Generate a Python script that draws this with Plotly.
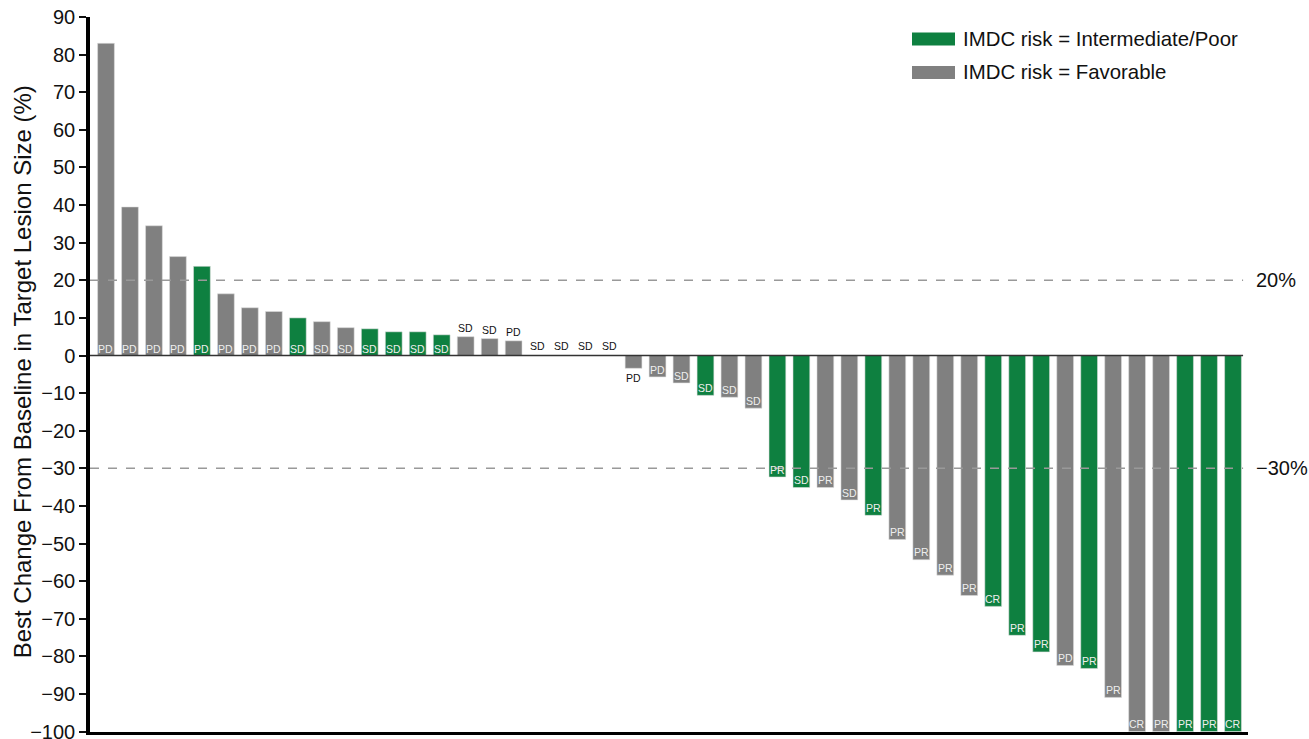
import plotly.graph_objects as go

# ---- data ----
values = [83, 39.5, 34.5, 26.3, 23.7, 16.4, 12.7, 11.7, 10.0, 9.0, 7.4, 7.1, 6.3, 6.3, 5.5,
          5.0, 4.5, 3.9, 0, 0, 0, 0, -3.4, -5.7, -7.3, -10.6, -11.1, -14.0, -32.3, -35.1,
          -35.1, -38.4, -42.5, -48.9, -54.3, -58.4, -63.8, -66.7, -74.4, -78.8, -82.4, -83.2,
          -90.9, -100, -100, -100, -100, -100]
responses = ["PD", "PD", "PD", "PD", "PD", "PD", "PD", "PD", "SD", "SD", "SD", "SD", "SD", "SD", "SD",
             "SD", "SD", "PD", "SD", "SD", "SD", "SD", "PD", "PD", "SD", "SD", "SD", "SD", "PR", "SD",
             "PR", "SD", "PR", "PR", "PR", "PR", "PR", "CR", "PR", "PR", "PD", "PR",
             "PR", "CR", "PR", "PR", "PR", "CR"]
risk = ["F", "F", "F", "F", "I", "F", "F", "F", "I", "F", "F", "I", "I", "I", "I",
        "F", "F", "F", "F", "F", "F", "F", "F", "F", "F", "I", "F", "F", "I", "I",
        "F", "F", "I", "F", "F", "F", "F", "I", "I", "I", "F", "I",
        "F", "F", "F", "I", "I", "I"]
risk_names = {"I": "IMDC risk = Intermediate/Poor", "F": "IMDC risk = Favorable"}
thresholds = [20, -30]
yticks = list(range(-100, 91, 10))
y_title = "Best Change From Baseline in Target Lesion Size (%)"

GREEN = "#0E8040"
GRAY = "#808080"
colors = {"I": GREEN, "F": GRAY}
FONT = "Arial, Liberation Sans, Helvetica, sans-serif"

x = list(range(len(values)))
fig = go.Figure()
fig.add_trace(go.Bar(
    x=x, y=values, width=0.7,
    marker=dict(color=[colors[r] for r in risk],
                line=dict(color="rgba(220,220,220,0.7)", width=0.8)),
    showlegend=False, hoverinfo="y",
))

# response labels
annotations = []
for i, (v, lab) in enumerate(zip(values, responses)):
    if abs(v) >= 5.25:
        if v > 0:
            y, ys = 0, 7
        else:
            y, ys = v, 7.4
        col = "#eeeeee"
    else:
        col = "#111111"
        if v > 0:
            y, ys = v, 9
        elif v == 0:
            y, ys = 0, 9.4
        else:
            y, ys = v, -10
    annotations.append(dict(x=i, y=y, xref="x", yref="y", text=lab, showarrow=False,
                            yshift=ys, yanchor="middle", xanchor="center",
                            font=dict(family=FONT, size=10.5, color=col)))

# threshold lines and labels
shapes = []
for t in thresholds:
    shapes.append(dict(type="line", xref="x", yref="y", x0=-0.667, x1=47.42, y0=t, y1=t,
                       line=dict(color="#999999", width=1.5, dash="dash")))
    txt = ("%d%%" % t).replace("-", "\u2212")
    annotations.append(dict(x=1.0, y=t, xref="paper", yref="y", text=txt, showarrow=False,
                            xanchor="left", yanchor="middle", xshift=6,
                            font=dict(family=FONT, size=20, color="#111111")))
# zero line
shapes.append(dict(type="line", xref="x", yref="y", x0=-0.667, x1=47.42, y0=0, y1=0,
                   line=dict(color="#333333", width=1.5)))

# manual legend
leg_rows = [("I", 0.9692), ("F", 0.9224)]
for key, yp in leg_rows:
    shapes.append(dict(type="rect", xref="paper", yref="paper",
                       x0=(912 - 90) / 1158, x1=(955 - 90) / 1158,
                       y0=yp - 6.5 / 715, y1=yp + 6.5 / 715,
                       fillcolor=colors[key], line=dict(width=0)))
    annotations.append(dict(x=(961 - 90) / 1158, y=yp, xref="paper", yref="paper",
                            text=risk_names[key], showarrow=False, xanchor="left",
                            yanchor="middle",
                            font=dict(family=FONT, size=20.4, color="#111111")))

# y-axis title
annotations.append(dict(x=(22 - 90) / 1158, y=0.503, xref="paper", yref="paper",
                        text=y_title, showarrow=False, textangle=-90,
                        xanchor="center", yanchor="middle",
                        font=dict(family=FONT, size=24, color="#111111")))

fig.update_layout(
    width=1309, height=739,
    margin=dict(l=90, r=61, t=17, b=7, autoexpand=False),
    paper_bgcolor="white", plot_bgcolor="white",
    font=dict(family=FONT, color="#111111"),
    shapes=shapes, annotations=annotations,
    bargap=0.3,
)
fig.update_xaxes(range=[-0.667, 47.625], showticklabels=False, ticks="",
                 showgrid=False, zeroline=False, showline=True, linecolor="black",
                 linewidth=3, automargin=False)
fig.update_yaxes(range=[-100.1, 90], tickvals=yticks, ticks="outside", ticklen=7,
                 tickwidth=1.5, tickcolor="#111111", showgrid=False, zeroline=False,
                 showline=True, linecolor="black", linewidth=3.5,
                 ticklabeloverflow="allow", automargin=False,
                 tickfont=dict(family=FONT, size=20, color="#111111"))

fig.write_html("out.html")
